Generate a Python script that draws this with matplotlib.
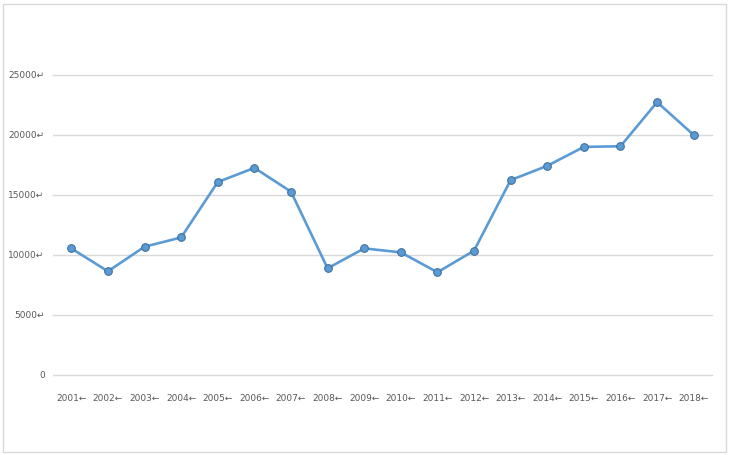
import numpy as np
import matplotlib.pyplot as plt
from matplotlib.patches import Rectangle

years = ["2001", "2002", "2003", "2004", "2005", "2006", "2007", "2008", "2009",
         "2010", "2011", "2012", "2013", "2014", "2015", "2016", "2017", "2018"]
values = [10550, 8640, 10690, 11460, 16080, 17260, 15280, 8890, 10550,
          10220, 8560, 10360, 16240, 17430, 19010, 19060, 22740, 20000]
yticks = [0, 5000, 10000, 15000, 20000, 25000]
ylabels = ["0", "5000\u21b5", "10000\u21b5", "15000\u21b5", "20000\u21b5", "25000\u21b5"]

fig = plt.figure(figsize=(7.3, 4.55), dpi=100)
ax = fig.add_axes([53 / 730, 80 / 455, 659 / 730, 300 / 455])

x = np.arange(len(years))
ax.plot(x, values, color="#5B9BD5", lw=1.9, marker="o", ms=5.5,
        mfc="#5B9BD5", mec="#41719C", mew=0.8, zorder=3)

ax.set_xlim(-0.5, len(years) - 0.5)
ax.set_ylim(0, 25000)
ax.set_yticks(yticks)
ax.set_yticklabels(ylabels)
ax.set_xticks(x)
ax.set_xticklabels([y + "\u2190" for y in years])
ax.grid(axis="y", color="#D9D9D9", lw=1)
for g in ax.yaxis.get_gridlines():
    g.set_clip_on(False)
ax.set_axisbelow(True)
for s in ax.spines.values():
    s.set_visible(False)
ax.tick_params(length=0, labelsize=6.5, labelcolor="#595959")
ax.tick_params(axis="y", pad=6)
ax.tick_params(axis="x", pad=14)

fig.patches.append(Rectangle((3 / 730, 3 / 455), 723 / 730, 448 / 455,
                             transform=fig.transFigure, fill=False,
                             edgecolor="#D9D9D9", lw=1))

fig.savefig("out.png", dpi=100)
